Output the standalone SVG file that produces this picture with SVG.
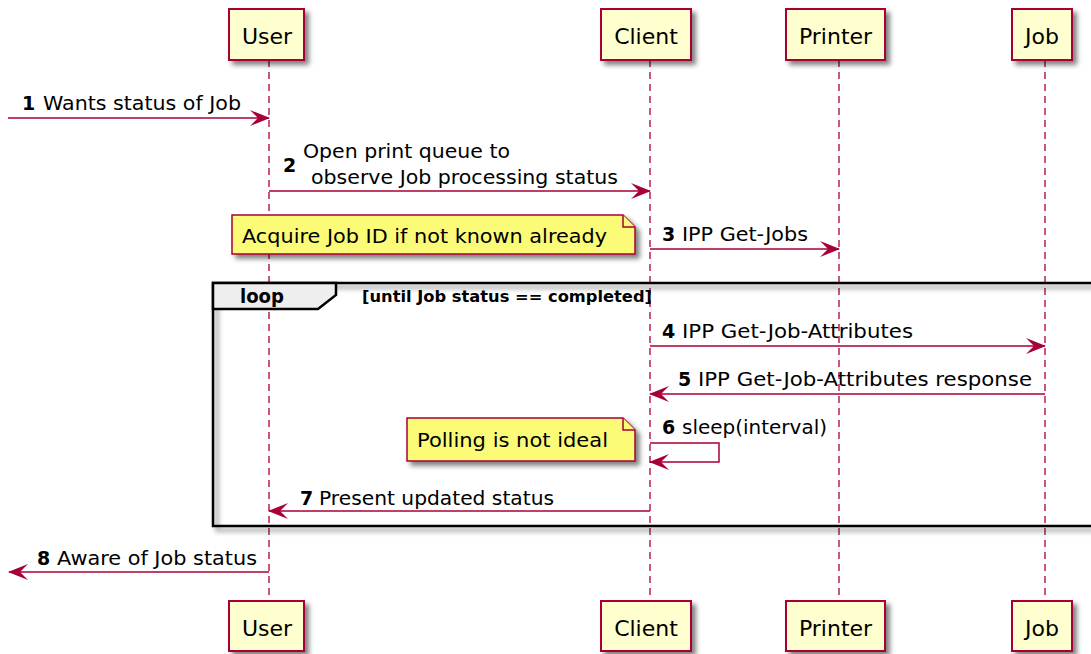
<svg xmlns="http://www.w3.org/2000/svg" width="1091" height="654" viewBox="0 0 1091 654">
<defs>
<filter id="sh" x="-20%" y="-20%" width="150%" height="160%">
<feGaussianBlur in="SourceAlpha" stdDeviation="2.5"/>
<feOffset dx="4" dy="4" result="b"/>
<feComponentTransfer><feFuncA type="linear" slope="0.5"/></feComponentTransfer>
<feMerge><feMergeNode/><feMergeNode in="SourceGraphic"/></feMerge>
</filter>
<marker id="ah" viewBox="0 0 20 16" refX="19" refY="8" markerWidth="20" markerHeight="16" markerUnits="userSpaceOnUse" orient="auto-start-reverse">
<polygon points="0,0 20,8 0,16 8,8" fill="#A80036"/>
</marker>
</defs>
<style>
.part{fill:#FEFECE;stroke:#A80036;stroke-width:2}
.ptxt{font-family:"DejaVu Sans",sans-serif;font-size:22px;fill:#000;text-anchor:middle}
.life{stroke:#A80036;stroke-width:1.3;stroke-dasharray:7,5;fill:none}
.msg{stroke:#A80036;stroke-width:1.5;fill:none}
.mtxt{font-family:"DejaVu Sans",sans-serif;font-size:20px;fill:#000}
.num{font-family:"DejaVu Sans",sans-serif;font-size:19px;font-weight:bold;fill:#000}
.note{fill:#FBFB77;stroke:#A80036;stroke-width:1.5}
.frame{fill:none;stroke:#000;stroke-width:2.5}
.tab{fill:#EEEEEE;stroke:#000;stroke-width:2.5}
.ltxt{font-family:"DejaVu Sans",sans-serif;font-weight:bold;fill:#000}
</style>
<rect width="1091" height="654" fill="#FFFFFF"/>

<g id="lifelines">
<line class="life" x1="269" y1="60" x2="269" y2="601"/>
<line class="life" x1="650" y1="60" x2="650" y2="601"/>
<line class="life" x1="839" y1="60" x2="839" y2="601"/>
<line class="life" x1="1045" y1="60" x2="1045" y2="601"/>
</g>

<g id="loop">
<rect class="frame" x="213" y="283" width="900" height="243" filter="url(#sh)"/>
<path class="tab" d="M213,283 L336,283 L336,295 L318,309 L213,309 Z"/>
<text class="ltxt" x="240" y="303" font-size="19" textLength="44" lengthAdjust="spacingAndGlyphs">loop</text>
<text class="ltxt" x="362" y="302" font-size="15" textLength="290" lengthAdjust="spacingAndGlyphs">[until Job status == completed]</text>
</g>

<g id="p-user-top"><rect class="part" x="229" y="9" width="75" height="51" filter="url(#sh)"/><text class="ptxt" x="267" y="44">User</text></g>
<g id="p-client-top"><rect class="part" x="601" y="9" width="90" height="51" filter="url(#sh)"/><text class="ptxt" x="646" y="44">Client</text></g>
<g id="p-printer-top"><rect class="part" x="786" y="9" width="99" height="51" filter="url(#sh)"/><text class="ptxt" x="835.5" y="44">Printer</text></g>
<g id="p-job-top"><rect class="part" x="1012" y="9" width="60" height="51" filter="url(#sh)"/><text class="ptxt" x="1042" y="44">Job</text></g>

<g id="p-user-bottom"><rect class="part" x="229" y="601" width="75" height="50" filter="url(#sh)"/><text class="ptxt" x="267" y="636">User</text></g>
<g id="p-client-bottom"><rect class="part" x="601" y="601" width="90" height="50" filter="url(#sh)"/><text class="ptxt" x="646" y="636">Client</text></g>
<g id="p-printer-bottom"><rect class="part" x="786" y="601" width="99" height="50" filter="url(#sh)"/><text class="ptxt" x="835.5" y="636">Printer</text></g>
<g id="p-job-bottom"><rect class="part" x="1012" y="601" width="60" height="50" filter="url(#sh)"/><text class="ptxt" x="1042" y="636">Job</text></g>

<g id="note-acquire">
<path class="note" d="M232,215 L623,215 L635,227 L635,254 L232,254 Z" filter="url(#sh)"/>
<path class="note" d="M623,215 L623,227 L635,227"/>
<text class="mtxt" x="242" y="243" textLength="365" lengthAdjust="spacingAndGlyphs">Acquire Job ID if not known already</text>
</g>

<g id="note-polling">
<path class="note" d="M407,418 L623,418 L635,430 L635,461 L407,461 Z" filter="url(#sh)"/>
<path class="note" d="M623,418 L623,430 L635,430"/>
<text class="mtxt" x="417" y="447" textLength="191" lengthAdjust="spacingAndGlyphs">Polling is not ideal</text>
</g>

<g id="connectors">
<line class="msg" x1="8" y1="118" x2="269" y2="118" marker-end="url(#ah)"/>
<text class="num" x="22" y="110">1</text>
<text class="mtxt" x="43" y="110" textLength="198" lengthAdjust="spacingAndGlyphs">Wants status of Job</text>

<line class="msg" x1="269" y1="191" x2="650" y2="191" marker-end="url(#ah)"/>
<text class="num" x="283" y="172">2</text>
<text class="mtxt" x="303" y="158" textLength="207" lengthAdjust="spacingAndGlyphs">Open print queue to</text>
<text class="mtxt" x="311" y="184" textLength="307" lengthAdjust="spacingAndGlyphs">observe Job processing status</text>

<line class="msg" x1="650" y1="249" x2="839" y2="249" marker-end="url(#ah)"/>
<text class="num" x="662" y="241">3</text>
<text class="mtxt" x="682" y="241" textLength="126" lengthAdjust="spacingAndGlyphs">IPP Get-Jobs</text>

<line class="msg" x1="650" y1="346" x2="1045" y2="346" marker-end="url(#ah)"/>
<text class="num" x="662" y="338">4</text>
<text class="mtxt" x="682" y="338" textLength="231" lengthAdjust="spacingAndGlyphs">IPP Get-Job-Attributes</text>

<line class="msg" x1="1045" y1="394" x2="650" y2="394" marker-end="url(#ah)"/>
<text class="num" x="678" y="386">5</text>
<text class="mtxt" x="698" y="386" textLength="334" lengthAdjust="spacingAndGlyphs">IPP Get-Job-Attributes response</text>

<polyline class="msg" points="650,443 719,443 719,462 650,462" marker-end="url(#ah)"/>
<text class="num" x="662" y="434">6</text>
<text class="mtxt" x="682" y="434" textLength="145" lengthAdjust="spacingAndGlyphs">sleep(interval)</text>

<line class="msg" x1="650" y1="511" x2="269" y2="511" marker-end="url(#ah)"/>
<text class="num" x="300" y="505">7</text>
<text class="mtxt" x="319" y="505" textLength="235" lengthAdjust="spacingAndGlyphs">Present updated status</text>

<line class="msg" x1="269" y1="572" x2="9" y2="572" marker-end="url(#ah)"/>
<text class="num" x="37" y="565">8</text>
<text class="mtxt" x="57" y="565" textLength="200" lengthAdjust="spacingAndGlyphs">Aware of Job status</text>
</g>
</svg>
